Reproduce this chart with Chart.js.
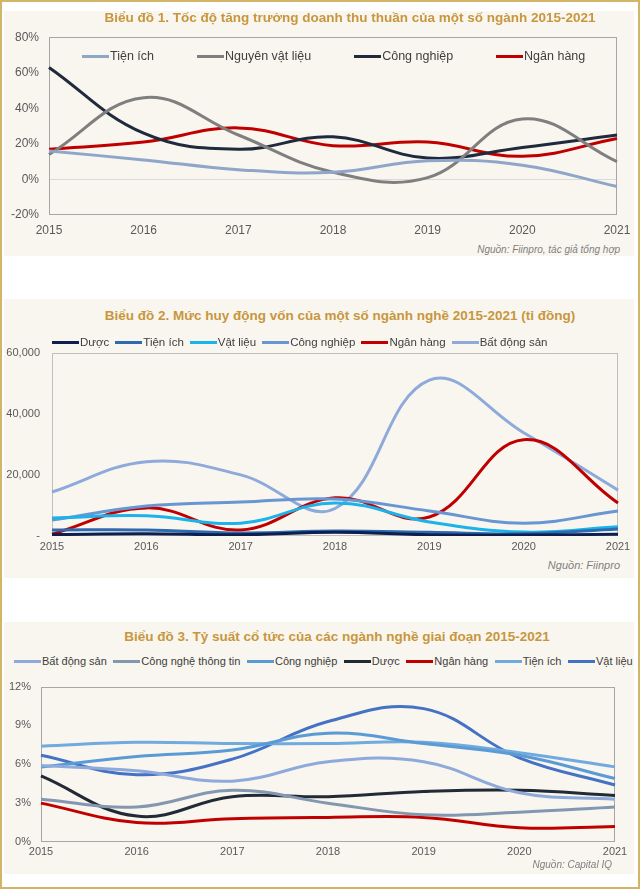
<!DOCTYPE html>
<html>
<head>
<meta charset="utf-8">
<script src="https://cdn.jsdelivr.net/npm/chart.js@4"></script>
<style>
  body { margin: 0; background: #fff; font-family: "Liberation Sans", Arial, sans-serif; }
  #page { position: relative; width: 640px; height: 889px; background: #fff; overflow: hidden; }
  .frame { position: absolute; left: 0; top: 0; right: 0; bottom: 0; border: 2px solid #d2b566; pointer-events: none; }
  .panel { position: absolute; left: 4px; width: 630px; background: #f8f6ee; }
  .title { position: absolute; left: 0; width: 640px; text-align: center; font-weight: bold; font-size: 13.5px; color: #c8963e; white-space: nowrap; }
  .legend { position: absolute; display: flex; align-items: center; color: #404040; white-space: nowrap; }
  .legend .item { display: flex; align-items: center; }
  .legend .swatch { display: inline-block; width: 27px; height: 3px; margin-right: 1px; }
  .source { position: absolute; font-style: italic; font-size: 10px; color: #7f7f7f; white-space: nowrap; }
  canvas { position: absolute; left: 0; }
</style>
</head>
<body>
<div id="page">
  <div class="panel" style="top:11px;height:245px"></div>
  <div class="panel" style="top:299px;height:279px"></div>
  <div class="panel" style="top:622px;height:252px"></div>

  <canvas id="chart1" width="640" height="220" style="top:20px"></canvas>
  <div class="title" style="top:10px;left:30px">Biểu đồ 1. Tốc độ tăng trưởng doanh thu thuần của một số ngành 2015-2021</div>
  <div class="legend" id="legend1" style="left:82px;top:49px;font-size:12.5px;gap:43px"></div>
  <div class="source" style="right:20px;top:244px">Nguồn: Fiinpro, tác giả tổng hợp</div>

  <canvas id="chart2" width="640" height="224" style="top:334px"></canvas>
  <div class="title" style="top:308px;left:20px">Biểu đồ 2. Mức huy động vốn của một số ngành nghề 2015-2021 (tỉ đồng)</div>
  <div class="legend" id="legend2" style="left:52px;top:336px;font-size:11.5px;gap:6px"></div>
  <div class="source" style="right:20px;top:559px;font-size:11px">Nguồn: Fiinpro</div>

  <canvas id="chart3" width="640" height="192" style="top:670px"></canvas>
  <div class="title" style="top:629px;left:17px">Biểu đồ 3. Tỷ suất cổ tức của các ngành nghề giai đoạn 2015-2021</div>
  <div class="legend" id="legend3" style="left:14px;top:655px;font-size:11px;gap:6.5px"></div>
  <div class="source" style="right:28px;top:859px">Nguồn: Capital IQ</div>

  <div class="frame"></div>
</div>

<script>
// Years on the x axis
const years = ['2015', '2016', '2017', '2018', '2019', '2020', '2021'];

// Biểu đồ 1 - growth of net revenue (%)
const growthNames = ['Tiện ích', 'Nguyên vật liệu', 'Công nghiệp', 'Ngân hàng'];
const growthTienIch = [16, 11, 5.5, 4, 10.5, 8, -4];
const growthNguyenVatLieu = [14, 46, 25, 4, 1, 34, 10];
const growthCongNghiep = [63, 26, 17, 24, 12, 18, 25];
const growthNganHang = [17, 21, 29, 19, 21, 13, 23];
const growthTicks = [-20, 0, 20, 40, 60, 80];

// Biểu đồ 2 - capital raised (tỉ đồng)
const capitalNames = ['Dược', 'Tiện ích', 'Vật liệu', 'Công nghiệp', 'Ngân hàng', 'Bất động sản'];
const capitalDuoc = [500, 700, 400, 1200, 400, 300, 600];
const capitalTienIch = [2000, 2000, 1000, 1600, 1200, 700, 2300];
const capitalVatLieu = [5900, 6600, 4200, 10800, 4600, 1300, 3000];
const capitalCongNghiep = [5200, 9800, 11100, 12100, 8200, 4200, 8200];
const capitalNganHang = [600, 9200, 2000, 12500, 6200, 31500, 10800];
const capitalBatDongSan = [14400, 24300, 20000, 9000, 51000, 33800, 15000];
const capitalTicks = [0, 20000, 40000, 60000];

// Biểu đồ 3 - dividend yield (%)
const dividendNames = ['Bất động sản', 'Công nghệ thông tin', 'Công nghiệp', 'Dược', 'Ngân hàng', 'Tiện ích', 'Vật liệu'];
const dividendBatDongSan = [5.9, 5.5, 4.7, 6.2, 6.2, 3.8, 3.3];
const dividendCNTT = [3.3, 2.7, 4.0, 3.0, 2.1, 2.3, 2.7];
const dividendCongNghiep = [5.8, 6.6, 7.1, 8.4, 7.6, 6.7, 4.9];
const dividendDuoc = [5.1, 2.0, 3.5, 3.5, 3.9, 4.0, 3.6];
const dividendNganHang = [3.0, 1.5, 1.8, 1.9, 1.9, 1.1, 1.2];
const dividendTienIch = [7.4, 7.7, 7.6, 7.6, 7.7, 6.9, 5.8];
const dividendVatLieu = [6.7, 5.2, 6.4, 9.3, 10.3, 6.5, 4.4];
const dividendTicks = [0, 3, 6, 9, 12];

const FONT = '"Liberation Sans", Arial, sans-serif';

// draws the grey frame round the plot area
const plotBox = {
  id: 'plotBox',
  beforeDatasetsDraw(chart, args, opts) {
    const a = chart.chartArea;
    const ctx = chart.ctx;
    ctx.save();
    ctx.strokeStyle = opts.color || '#a6a6a6';
    ctx.lineWidth = 1;
    ctx.strokeRect(Math.round(a.left) + 0.5, Math.round(a.top) + 0.5, Math.round(a.width) - 1, Math.round(a.height) - 1);
    ctx.restore();
  }
};

function makeLegend(id, names, colors) {
  const box = document.getElementById(id);
  names.forEach((n, i) => {
    const item = document.createElement('span');
    item.className = 'item';
    const sw = document.createElement('span');
    sw.className = 'swatch';
    sw.style.background = colors[i];
    item.appendChild(sw);
    item.appendChild(document.createTextNode(n));
    box.appendChild(item);
  });
}

function lineChart(id, names, series, colors, cfg) {
  const datasets = series.map((s, i) => ({
    label: names[i],
    data: s,
    borderColor: colors[i],
    backgroundColor: colors[i],
    borderWidth: 3,
    pointRadius: 0,
    tension: 0.4,
    fill: false
  }));
  return new Chart(document.getElementById(id), {
    type: 'line',
    data: { labels: years, datasets: datasets },
    plugins: [plotBox],
    options: {
      responsive: false,
      animation: false,
      layout: { padding: cfg.padding },
      plugins: {
        legend: { display: false },
        tooltip: { enabled: false },
        plotBox: { color: cfg.boxColor }
      },
      scales: {
        x: {
          offset: false,
          grid: { display: false, drawTicks: false },
          border: { display: false },
          ticks: { color: '#595959', font: { family: FONT, size: cfg.xFont }, padding: cfg.xPad, maxRotation: 0, autoSkip: false },
          afterFit: s => { s.height = cfg.xHeight; }
        },
        y: {
          min: cfg.ticks[0],
          max: cfg.ticks[cfg.ticks.length - 1],
          afterBuildTicks: s => { s.ticks = cfg.ticks.map(v => ({ value: v })); },
          grid: { drawTicks: false, color: cfg.gridColor },
          border: { display: false },
          ticks: { color: '#595959', font: { family: FONT, size: cfg.yFont }, padding: cfg.yPad, callback: cfg.fmt },
          afterFit: s => { s.width = cfg.yWidth; }
        }
      }
    }
  });
}

// Chart 1
const colors1 = ['#8fa6ca', '#7f7f7f', '#1f2a3c', '#c00000'];
makeLegend('legend1', growthNames, colors1);
lineChart('chart1', growthNames,
  [growthTienIch, growthNguyenVatLieu, growthCongNghiep, growthNganHang], colors1, {
    padding: { top: 0, right: 23, bottom: 0, left: 0 },
    ticks: growthTicks,
    fmt: v => v + '%',
    gridColor: c => (c.tick && c.tick.value === 0 ? '#d9d9d9' : 'rgba(0,0,0,0)'),
    boxColor: '#a6a6a6',
    xFont: 12, yFont: 12, xPad: 8, yPad: 10, xHeight: 25, yWidth: 49
  });

// Chart 2
const colors2 = ['#0c1f4e', '#2e6ab0', '#1cb2ea', '#6796d3', '#c00000', '#8eaadb'];
makeLegend('legend2', capitalNames, colors2);
lineChart('chart2', capitalNames,
  [capitalDuoc, capitalTienIch, capitalVatLieu, capitalCongNghiep, capitalNganHang, capitalBatDongSan], colors2, {
    padding: { top: 0, right: 22, bottom: 0, left: 0 },
    ticks: capitalTicks,
    fmt: v => (v === 0 ? '-' : v.toLocaleString('en-US')),
    gridColor: 'rgba(0,0,0,0)',
    boxColor: '#bfbfbf',
    xFont: 11, yFont: 11, xPad: 4, yPad: 12, xHeight: 22, yWidth: 52
  });

// Chart 3
const colors3 = ['#8eaadb', '#8497b0', '#5b9bd5', '#222a35', '#c00000', '#70aadf', '#4472c4'];
makeLegend('legend3', dividendNames, colors3);
lineChart('chart3', dividendNames,
  [dividendBatDongSan, dividendCNTT, dividendCongNghiep, dividendDuoc, dividendNganHang, dividendTienIch, dividendVatLieu], colors3, {
    padding: { top: 0, right: 25, bottom: 0, left: 0 },
    ticks: dividendTicks,
    fmt: v => v + '%',
    gridColor: 'rgba(0,0,0,0)',
    boxColor: '#a6a6a6',
    xFont: 11, yFont: 11, xPad: 3, yPad: 10, xHeight: 20, yWidth: 41
  });
</script>
</body>
</html>
